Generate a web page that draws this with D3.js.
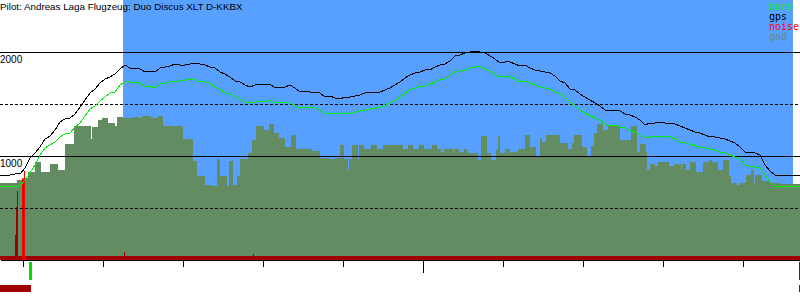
<!DOCTYPE html>
<html>
<head>
<meta charset="utf-8">
<script src="https://cdn.jsdelivr.net/npm/d3@7"></script>
<style>
  body { margin: 0; background: #fff; }
  svg { display: block; }
  text { font-family: "Liberation Sans", Arial, sans-serif; font-size: 10px; }
  .title { font-size: 9.8px; }
  .legend text { font-family: "DejaVu Sans Mono", monospace; font-size: 10px; }
</style>
</head>
<body>
<svg width="800" height="300"></svg>
<script>
const titleText = 'Pilot: Andreas Laga Flugzeug: Duo Discus XLT D-KKBX';

// one fix every 7.5 s, log starts 13:07:07.5
const fixSeconds = 7.5;
const startTime = new Date(2000, 0, 1, 13, 7, 7, 500);
const fixCount = 800;
const lineStep = 5; // altitude series sampled every 5 fixes

// task window (fix index)
const taskWindow = [123, 793];

// gps altitude (m), every 5 fixes
const gpsAlt = [
  817, 817, 817, 827, 827, 885, 981, 1029, 1087, 1163, 1192, 1250, 1327, 1356, 1365, 1404, 1471, 1538, 1606, 1644,
  1702, 1740, 1760, 1788, 1837, 1875, 1846, 1846, 1837, 1808, 1808, 1808, 1846, 1856, 1865, 1885, 1875, 1875, 1885, 1885,
  1885, 1875, 1856, 1846, 1808, 1788, 1760, 1721, 1712, 1683, 1663, 1683, 1683, 1683, 1692, 1654, 1654, 1663, 1683, 1654,
  1615, 1625, 1615, 1606, 1606, 1567, 1577, 1558, 1548, 1567, 1567, 1577, 1587, 1606, 1606, 1615, 1615, 1635, 1654, 1683,
  1712, 1750, 1779, 1798, 1808, 1827, 1827, 1856, 1875, 1885, 1913, 1962, 1971, 1990, 2000, 2010, 2000, 1990, 1962, 1933,
  1894, 1904, 1904, 1885, 1865, 1875, 1846, 1827, 1817, 1808, 1798, 1769, 1721, 1702, 1644, 1635, 1596, 1567, 1538, 1510,
  1481, 1442, 1433, 1433, 1433, 1404, 1394, 1375, 1346, 1298, 1317, 1317, 1327, 1317, 1317, 1308, 1288, 1269, 1250, 1231,
  1221, 1202, 1183, 1183, 1173, 1163, 1144, 1125, 1087, 1038, 1029, 1029, 1010, 913, 856, 817, 817, 817, 817, 817,
  817
];

// baro altitude (m), every 5 fixes
const baroAlt = [
  702, 702, 702, 702, 712, 769, 837, 913, 1010, 1077, 1106, 1135, 1183, 1212, 1221, 1279, 1317, 1385, 1452, 1481,
  1529, 1567, 1606, 1615, 1683, 1712, 1712, 1702, 1702, 1663, 1673, 1654, 1692, 1702, 1712, 1712, 1721, 1731, 1731, 1731,
  1712, 1712, 1702, 1663, 1644, 1606, 1596, 1567, 1548, 1519, 1519, 1519, 1529, 1519, 1538, 1510, 1510, 1510, 1510, 1481,
  1462, 1471, 1462, 1462, 1442, 1413, 1413, 1404, 1404, 1413, 1413, 1423, 1433, 1442, 1452, 1462, 1471, 1481, 1510, 1538,
  1567, 1606, 1635, 1654, 1673, 1673, 1692, 1712, 1731, 1740, 1779, 1808, 1817, 1827, 1846, 1856, 1856, 1837, 1817, 1779,
  1760, 1760, 1760, 1740, 1712, 1721, 1702, 1683, 1663, 1654, 1644, 1615, 1606, 1567, 1519, 1481, 1442, 1413, 1385, 1365,
  1346, 1308, 1288, 1298, 1279, 1269, 1250, 1231, 1202, 1173, 1183, 1183, 1183, 1183, 1183, 1163, 1135, 1125, 1115, 1096,
  1087, 1077, 1067, 1058, 1038, 1029, 1010, 990, 971, 913, 904, 894, 885, 817, 750, 702, 702, 702, 702, 702,
  702
];

// ground elevation steps: start fix index and elevation (m)
const groundStart = [
  0, 17, 22, 28, 35, 41, 50, 58, 65, 74, 91, 92, 98, 102, 108, 115, 117, 123, 133, 139,
  142, 151, 158, 163, 183, 193, 197, 205, 213, 217, 220, 227, 229, 233, 237, 240, 248, 252, 256, 264,
  269, 274, 279, 285, 291, 296, 312, 320, 330, 335, 340, 344, 348, 349, 352, 358, 359, 364, 371, 377,
  383, 403, 408, 413, 419, 424, 432, 437, 441, 444, 453, 454, 459, 464, 467, 478, 481, 487, 491, 496,
  498, 500, 505, 510, 518, 525, 530, 536, 540, 542, 546, 560, 568, 572, 574, 582, 587, 591, 594, 597,
  603, 608, 620, 631, 637, 640, 646, 647, 650, 655, 658, 669, 674, 681, 682, 686, 690, 696, 703, 709,
  712, 718, 723, 729, 731, 737, 740, 746, 751, 754, 755, 762, 770, 780
];
const groundAlt = [
  740, 769, 788, 846, 942, 846, 923, 865, 1115, 1288, 1163, 1279, 1346, 1365, 1317, 1288, 1375, 1365, 1375, 1365,
  1385, 1365, 1385, 1288, 1163, 952, 808, 721, 712, 971, 808, 712, 952, 721, 808, 971, 1029, 1154, 1288, 1250,
  1308, 1221, 1173, 1087, 1202, 1067, 1048, 981, 971, 981, 1106, 971, 865, 971, 1106, 971, 1106, 1067, 1106, 1067,
  1106, 1067, 1106, 1067, 1106, 1067, 1106, 1067, 1038, 1067, 1038, 1067, 1038, 1067, 1029, 962, 1192, 1029, 962, 1058,
  1192, 1029, 1067, 1038, 1067, 1202, 1087, 990, 1173, 1135, 1202, 1125, 1067, 1125, 1202, 1087, 990, 1096, 1221, 1308,
  1250, 1288, 1154, 1288, 1038, 1115, 1038, 865, 923, 904, 942, 904, 923, 865, 923, 865, 942, 846, 942, 962,
  942, 865, 962, 808, 740, 721, 740, 817, 865, 740, 817, 760, 740, 731
];

// engine noise: floor level and single-fix spikes (0..255)
const noiseFloor = 3.5;
const noiseIdx = [15, 16, 17, 22, 23, 24, 124, 253];
const noiseVal = [25, 52, 68, 80, 78, 87, 8, 6];
const noiseLoud = [false, false, false, true, false, true, false, false];

const gridAlt = [500, 1000, 1500, 2000];
const gridLabels = [1000, 2000];

const legendNames = ['baro', 'gps', 'noise', 'gnd'];
const legendColors = ['#00ee00', '#000000', '#ff0000', '#638c63'];

const svg = d3.select('svg');
const width = +svg.attr('width');

const timeAt = i => new Date(startTime.getTime() + i * fixSeconds * 1000);

const xScale = d3.scaleTime()
  .domain([timeAt(0), timeAt(fixCount)])
  .range([0, width]);

const yScale = d3.scaleLinear()
  .domain([0, 2500])
  .range([260, 0]);

const noiseScale = d3.scaleLinear()
  .domain([0, 255])
  .range([260, 0]);

const g = svg.append('g').attr('shape-rendering', 'crispEdges');

// task window background
g.append('rect')
  .attr('x', xScale(timeAt(taskWindow[0])))
  .attr('y', 0)
  .attr('width', xScale(timeAt(taskWindow[1])) - xScale(timeAt(taskWindow[0])))
  .attr('height', yScale(0))
  .attr('fill', '#58a0ff');

// ground
const ground = groundStart.map((s, i) => ({
  s, e: i < groundStart.length - 1 ? groundStart[i + 1] : fixCount, alt: groundAlt[i]
}));
g.selectAll('rect.gnd').data(ground)
  .enter().append('rect')
    .attr('class', 'gnd')
    .attr('x', d => xScale(timeAt(d.s)))
    .attr('width', d => xScale(timeAt(d.e)) - xScale(timeAt(d.s)))
    .attr('y', d => yScale(d.alt))
    .attr('height', d => yScale(0) - yScale(d.alt))
    .attr('fill', '#638c63');

// noise
g.append('rect')
  .attr('x', 0)
  .attr('width', width)
  .attr('y', noiseScale(noiseFloor))
  .attr('height', noiseScale(0) - noiseScale(noiseFloor))
  .attr('fill', '#a00000');

g.selectAll('rect.noise').data(noiseIdx)
  .enter().append('rect')
    .attr('class', 'noise')
    .attr('x', d => xScale(timeAt(d)))
    .attr('width', 1)
    .attr('y', (d, i) => noiseScale(noiseVal[i]))
    .attr('height', (d, i) => noiseScale(0) - noiseScale(noiseVal[i]))
    .attr('fill', (d, i) => noiseLoud[i] ? '#ff0000' : '#a00000');

// grid
g.selectAll('line.grid').data(gridAlt)
  .enter().append('line')
    .attr('class', 'grid')
    .attr('x1', 0)
    .attr('x2', width)
    .attr('y1', d => Math.round(yScale(d)) + 0.5)
    .attr('y2', d => Math.round(yScale(d)) + 0.5)
    .attr('stroke', '#000')
    .attr('stroke-dasharray', d => d % 1000 ? '3,2' : null);

svg.selectAll('text.ylab').data(gridLabels)
  .enter().append('text')
    .attr('class', 'ylab')
    .attr('x', 0)
    .attr('y', d => yScale(d) + 11)
    .text(d => d);

// altitude lines
const lineGen = d3.line()
  .x((d, i) => xScale(timeAt(i * lineStep)))
  .y(d => yScale(d));

g.append('path')
  .datum(gpsAlt)
  .attr('d', lineGen)
  .attr('fill', 'none')
  .attr('stroke', '#000')
  .attr('stroke-width', 1);

g.append('path')
  .datum(baroAlt)
  .attr('d', lineGen)
  .attr('fill', 'none')
  .attr('stroke', '#00ee00')
  .attr('stroke-width', 1);

// time axis: 10 min ticks, longer on the hour
const xAxis = d3.axisBottom(xScale)
  .ticks(d3.timeMinute.every(10))
  .tickSize(7)
  .tickSizeOuter(0)
  .tickFormat('');

const xAxisG = g.append('g')
  .attr('transform', `translate(0,${yScale(0)})`)
  .call(xAxis);
xAxisG.selectAll('.tick line')
  .filter(d => d.getMinutes() === 0)
  .attr('y2', 13);

// takeoff / landing markers
g.append('rect')
  .attr('x', xScale(timeAt(29)))
  .attr('y', 262)
  .attr('width', 3)
  .attr('height', 18)
  .attr('fill', '#00dd00');
g.append('rect')
  .attr('x', xScale(timeAt(798.5)))
  .attr('y', 262)
  .attr('width', 2)
  .attr('height', 18)
  .attr('fill', '#a00000');

// engine run bar
const engineRuns = [[0, 31], [799, 800]];
g.selectAll('rect.engine').data(engineRuns)
  .enter().append('rect')
    .attr('class', 'engine')
    .attr('x', d => xScale(timeAt(d[0])))
    .attr('width', d => xScale(timeAt(d[1])) - xScale(timeAt(d[0])))
    .attr('y', 285)
    .attr('height', 7)
    .attr('fill', '#a00000');

// title
svg.append('text')
  .attr('class', 'title')
  .attr('x', 0)
  .attr('y', 10)
  .attr('fill', '#000')
  .text(titleText);

// legend
const legend = svg.append('g').attr('class', 'legend');
legend.selectAll('text').data(legendNames)
  .enter().append('text')
    .attr('x', 769)
    .attr('y', (d, i) => 10 + i * 10)
    .attr('fill', (d, i) => legendColors[i])
    .text(d => d);
</script>
</body>
</html>
